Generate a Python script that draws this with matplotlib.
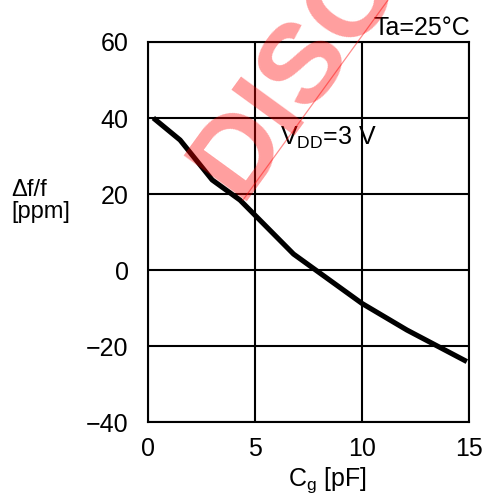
import matplotlib
matplotlib.use('Agg')
import matplotlib.pyplot as plt

plt.rcParams['font.family'] = ['Liberation Sans', 'DejaVu Sans']

# frequency shift vs gate capacitance
cg = [0.25, 1.5, 3.0, 4.3, 6.8, 10.0, 12.1, 14.9]
df = [40, 34.2, 23.7, 18.4, 4.2, -8.8, -15.8, -24.1]

x_ticks = [0, 5, 10, 15]
y_ticks = [-40, -20, 0, 20, 40, 60]
y_tick_labels = ['\u221240', '\u221220', '0', '20', '40', '60']

W, H = 484, 499
fig = plt.figure(figsize=(W / 100, H / 100), dpi=100)
ax = fig.add_axes([148 / W, 1 - 422 / H, 321 / W, 380 / H])

ax.plot(cg, df, color='black', lw=3.7, solid_capstyle='butt', zorder=3)

ax.set_xlim(0, 15)
ax.set_ylim(-40, 60)
ax.set_xticks(x_ticks)
ax.set_yticks(y_ticks)
ax.set_yticklabels(y_tick_labels)
ax.grid(True, color='black', lw=1.5)
ax.tick_params(length=0, labelsize=18)
ax.tick_params(axis='y', pad=14)
ax.tick_params(axis='x', pad=11)
for s in ax.spines.values():
    s.set_linewidth(1.5)

fig.text(327 / W, 1 - 480 / H, 'C$_\\mathregular{g}$ [pF]', fontsize=18, ha='center', va='center')
fig.text(11 / W, 1 - 190 / H, '\u0394f/f', fontsize=17, ha='left', va='center')
fig.text(11 / W, 1 - 212 / H, '[ppm]', fontsize=17, ha='left', va='center')
fig.text(470 / W, 1 - 35 / H, 'Ta=25\u00b0C', fontsize=18, ha='right', va='baseline')
ax.text(6.15, 32.9, 'V$_\\mathregular{DD}$=3 V', fontsize=18, ha='left', va='baseline')

# watermark
fig.text(240 / W, 1 - 201 / H, 'DISCONTINUED', fontsize=82, fontweight='bold',
         color='red', alpha=0.38, rotation=54, rotation_mode='anchor',
         ha='left', va='baseline', zorder=10)
fig.add_artist(plt.Line2D([243 / W, 388 / W], [1 - 200 / H, 1.0], color='red',
                          alpha=0.45, lw=0.9, zorder=10))

fig.savefig('out.png', dpi=100)
